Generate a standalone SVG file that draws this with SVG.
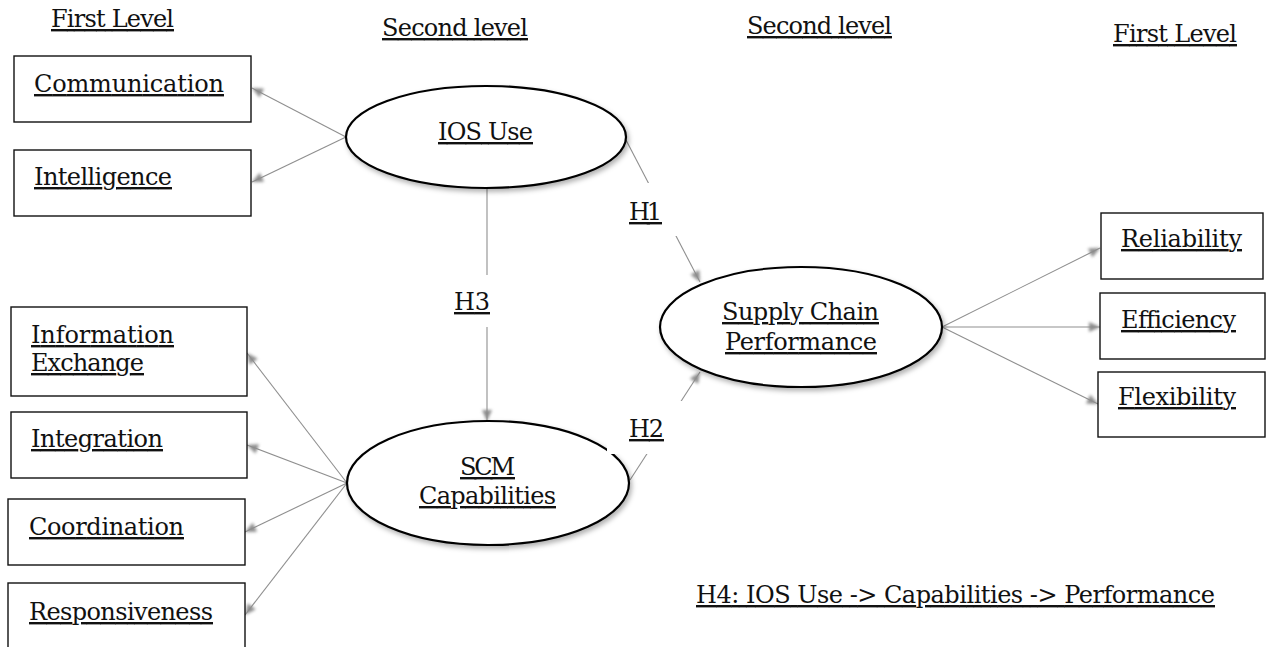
<svg xmlns="http://www.w3.org/2000/svg" width="1269" height="647" viewBox="0 0 1269 647">
<defs>
<style>
text{font-family:"DejaVu Serif","Liberation Serif",serif;font-size:24px;fill:#111;text-decoration:underline;}
.box{fill:#fff;stroke:#111;stroke-width:1.4;}
.ell{fill:#fff;stroke:#000;stroke-width:2.2;filter:url(#sh);}
.con{stroke:#8f8f8f;stroke-width:1.1;fill:none;marker-end:url(#ah);}
.mask{fill:#fff;stroke:none;}
</style>
<filter id="sh" x="-20%" y="-20%" width="140%" height="150%">
<feDropShadow dx="2" dy="3" stdDeviation="2.5" flood-color="#000" flood-opacity="0.3"/>
</filter>
<filter id="bl" x="-50%" y="-50%" width="200%" height="200%">
<feGaussianBlur stdDeviation="1.6"/>
</filter>
<marker id="ah" markerUnits="userSpaceOnUse" markerWidth="18" markerHeight="16" refX="12" refY="8" orient="auto" overflow="visible">
<path d="M1,3 L12,8 L1,13 z" fill="#8c8c8c" filter="url(#bl)"/>
</marker>
</defs>
<rect width="1269" height="647" fill="#fff"/>

<g id="headers">
<text x="51" y="27" textLength="123">First Level</text>
<text x="382" y="36" textLength="146">Second level</text>
<text x="747" y="34" textLength="145">Second level</text>
<text x="1113" y="42" textLength="124">First Level</text>
</g>

<g id="connectors">
<line class="con" x1="346" y1="137" x2="252" y2="88"/>
<line class="con" x1="346" y1="137" x2="252" y2="182"/>
<line class="con" x1="347" y1="483" x2="247" y2="353"/>
<line class="con" x1="347" y1="483" x2="247" y2="445"/>
<line class="con" x1="347" y1="483" x2="245" y2="532"/>
<line class="con" x1="347" y1="483" x2="245" y2="615"/>
<line class="con" x1="942" y1="327" x2="1100" y2="248"/>
<line class="con" x1="942" y1="327" x2="1100" y2="327"/>
<line class="con" x1="942" y1="327" x2="1098" y2="404"/>
<line class="con" x1="626" y1="140" x2="700" y2="282"/>
<line class="con" x1="487" y1="188" x2="487" y2="421"/>
<line class="con" x1="630" y1="480" x2="700" y2="372"/>
</g>

<g id="communication"><rect class="box" x="14" y="56" width="237" height="66"/><text x="34" y="92" textLength="190">Communication</text></g>
<g id="intelligence"><rect class="box" x="14" y="150" width="237" height="66"/><text x="34" y="185" textLength="138">Intelligence</text></g>
<g id="information-exchange"><rect class="box" x="11" y="307" width="236" height="89"/><text x="31" y="343" textLength="143">Information</text><text x="31" y="371" textLength="113">Exchange</text></g>
<g id="integration"><rect class="box" x="11" y="412" width="236" height="66"/><text x="31" y="447" textLength="132">Integration</text></g>
<g id="coordination"><rect class="box" x="8" y="499" width="237" height="66"/><text x="29" y="535" textLength="155">Coordination</text></g>
<g id="responsiveness"><rect class="box" x="8" y="583" width="237" height="70"/><text x="29" y="620" textLength="184">Responsiveness</text></g>
<g id="reliability"><rect class="box" x="1101" y="213" width="162" height="66"/><text x="1121" y="247" textLength="121">Reliability</text></g>
<g id="efficiency"><rect class="box" x="1100" y="293" width="165" height="66"/><text x="1121" y="328" textLength="115">Efficiency</text></g>
<g id="flexibility"><rect class="box" x="1098" y="372" width="167" height="65"/><text x="1118" y="405" textLength="118">Flexibility</text></g>

<g id="ios-use"><ellipse class="ell" cx="486" cy="137" rx="140" ry="51"/><text x="438" y="140" textLength="95">IOS Use</text></g>
<g id="scm-capabilities"><ellipse class="ell" cx="488" cy="483" rx="141" ry="62"/><text x="460" y="475" textLength="55">SCM</text><text x="419" y="504" textLength="137">Capabilities</text></g>
<g id="supply-chain-performance"><ellipse class="ell" cx="801" cy="327" rx="141" ry="60"/><text x="722" y="320" textLength="157">Supply Chain</text><text x="725" y="350" textLength="152">Performance</text></g>

<g id="h1"><rect class="mask" x="606" y="183" width="78" height="53"/><text x="629" y="220" textLength="33">H1</text></g>
<g id="h3"><rect class="mask" x="445" y="275" width="56" height="52"/><text x="454" y="310" textLength="36">H3</text></g>
<g id="h2"><rect class="mask" x="607" y="401" width="85" height="53"/><text x="629" y="437" textLength="35">H2</text></g>

<g id="h4"><text x="696" y="603" textLength="519">H4: IOS Use -&gt; Capabilities -&gt; Performance</text></g>
</svg>
